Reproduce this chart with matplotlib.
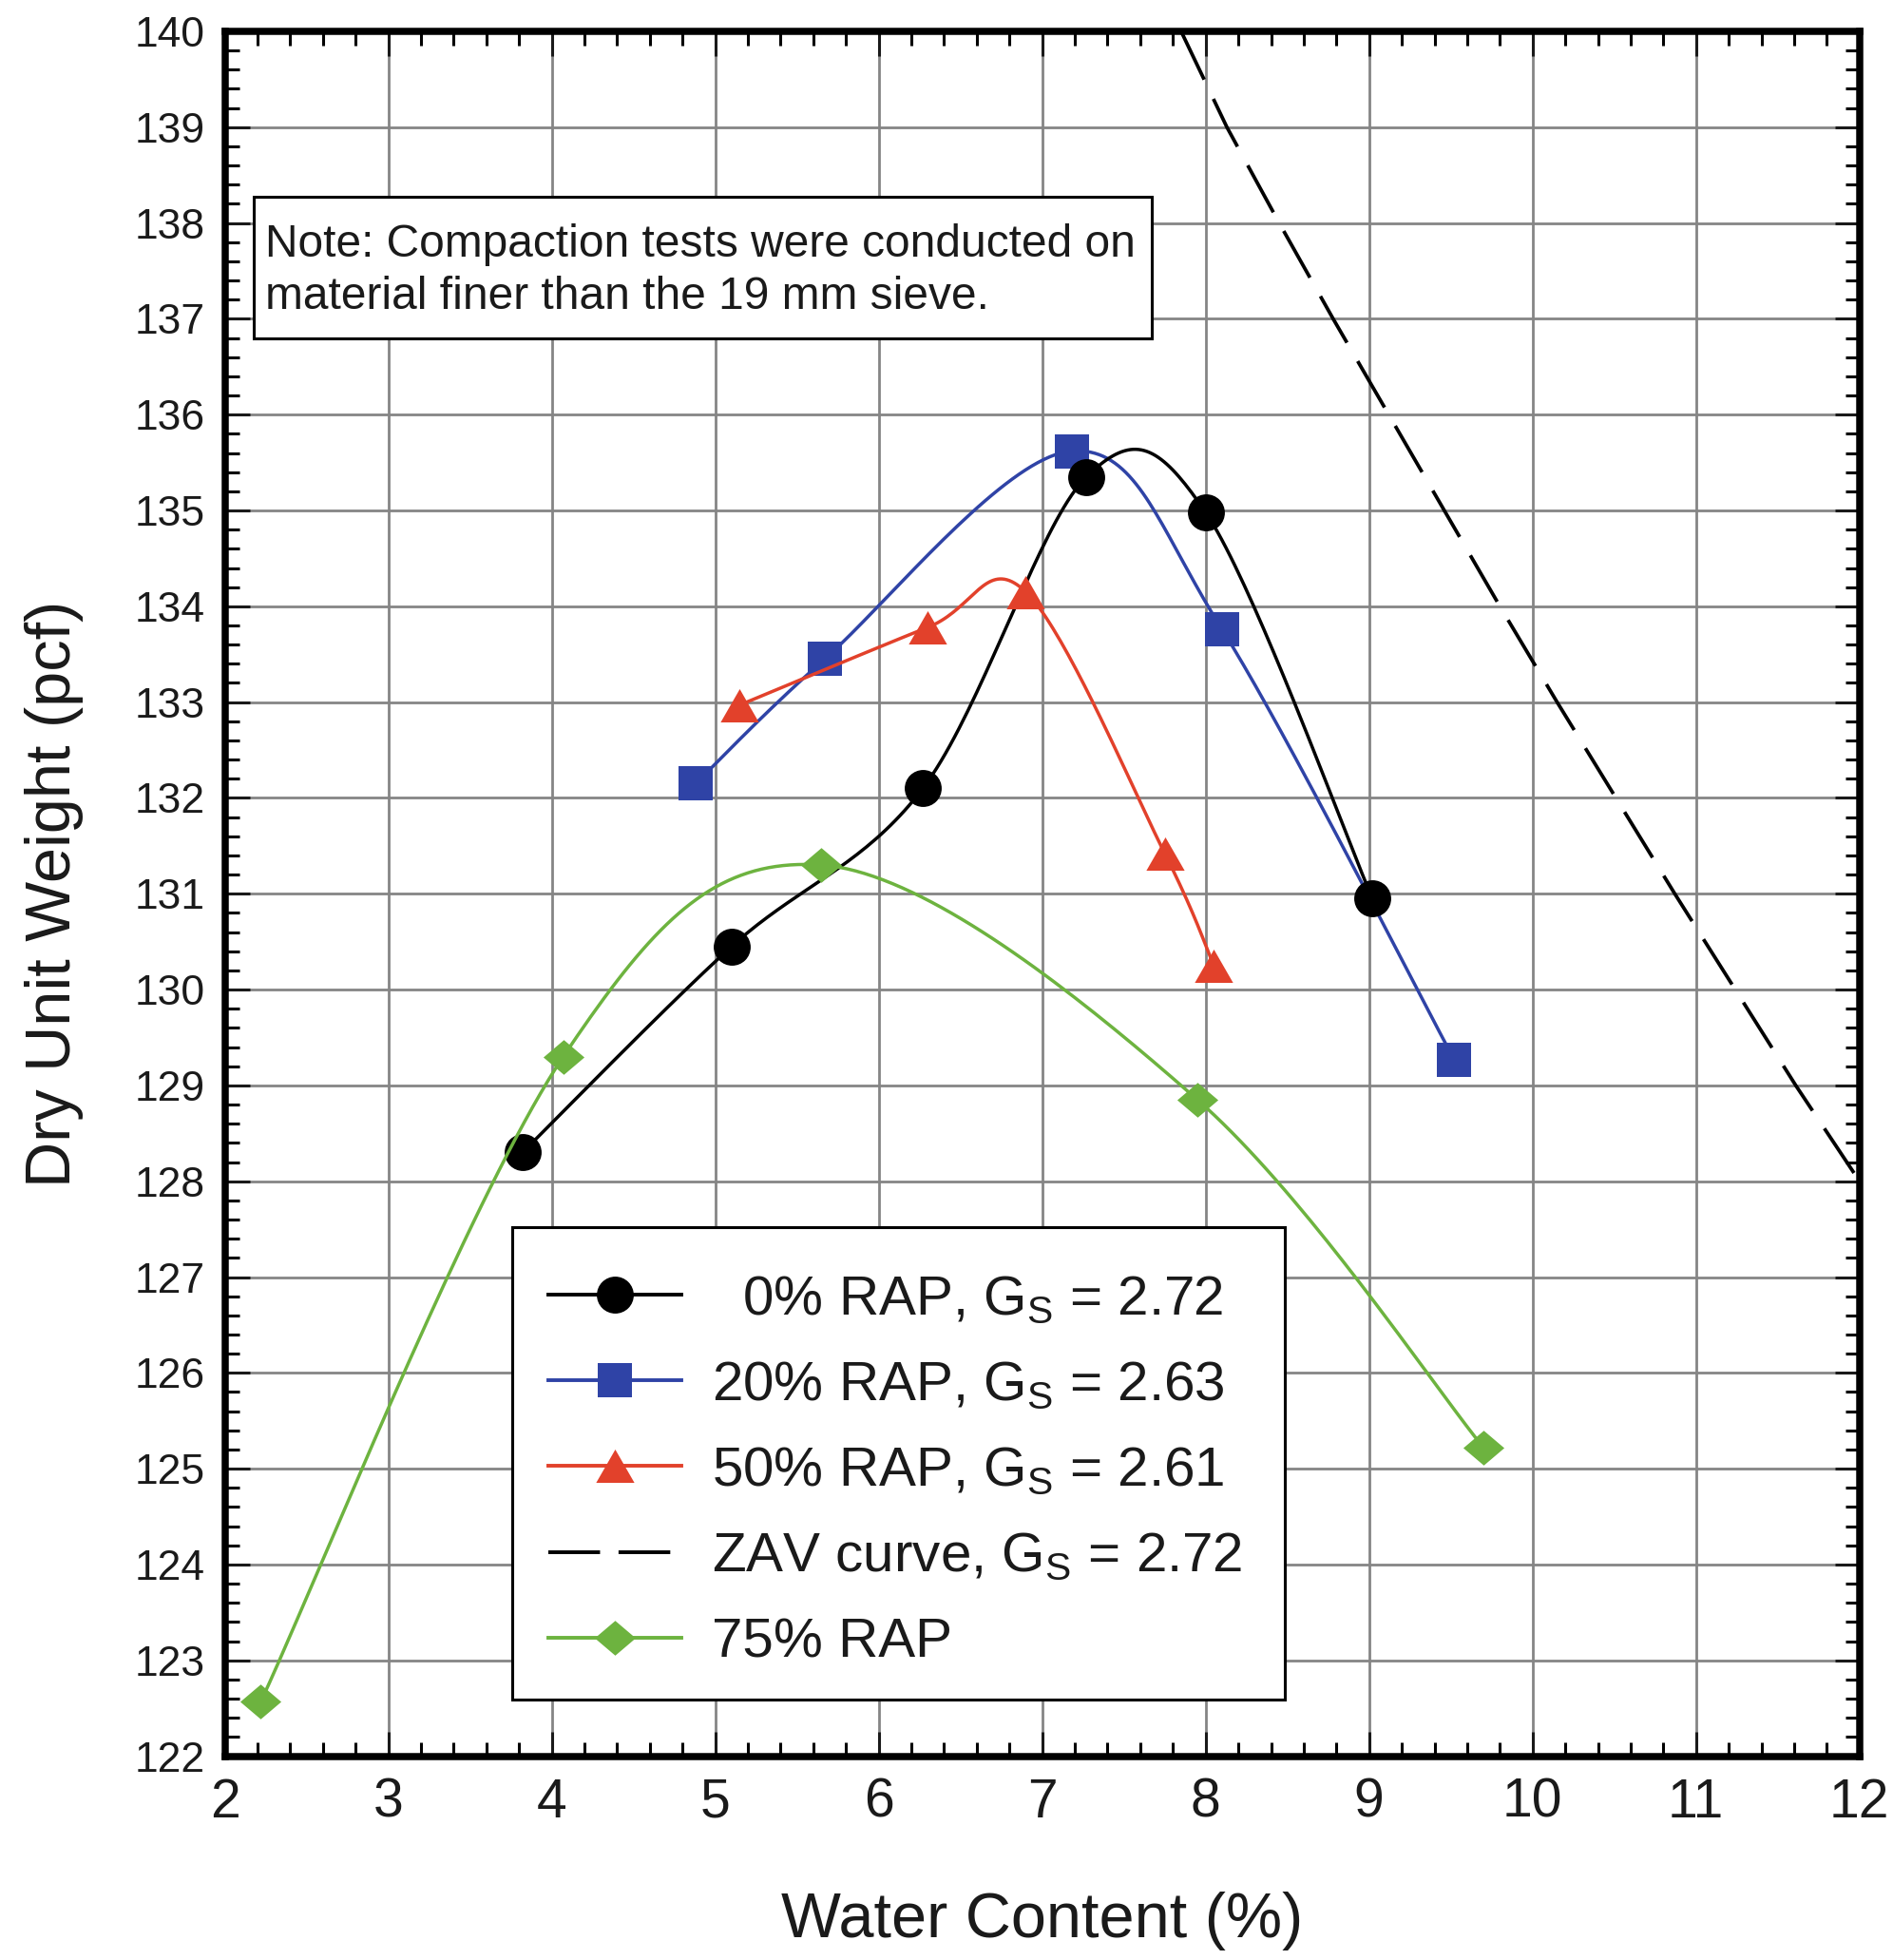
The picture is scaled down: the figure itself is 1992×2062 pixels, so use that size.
import numpy as np
import matplotlib
matplotlib.use('Agg')
import matplotlib.pyplot as plt
from matplotlib.lines import Line2D
from matplotlib.patches import Rectangle
from matplotlib.ticker import MultipleLocator

plt.rcParams['font.family'] = ['Liberation Sans', 'DejaVu Sans']
plt.rcParams['mathtext.fontset'] = 'custom'
plt.rcParams['mathtext.rm'] = 'Liberation Sans'
plt.rcParams['mathtext.it'] = 'Liberation Sans'
plt.rcParams['mathtext.default'] = 'regular'

# ---------------- data ----------------
w_0 = [3.82, 5.10, 6.27, 7.27, 8.00, 9.02]
g_0 = [128.30, 130.45, 132.10, 135.35, 134.98, 130.95]

w_20 = [4.88, 5.67, 7.18, 8.10, 9.52]
g_20 = [132.15, 133.45, 135.62, 133.76, 129.27]

w_50 = [5.15, 6.30, 6.90, 7.75, 8.05]
g_50 = [132.97, 133.78, 134.15, 131.42, 130.25]

w_75 = [2.22, 4.07, 5.65, 7.95, 9.70]
g_75 = [122.57, 129.30, 131.30, 128.85, 125.22]

w_zav = [7.85, 8.13, 8.45, 8.78, 9.12, 9.46, 9.80, 10.15, 10.51, 10.87, 11.24, 11.61, 12.00]
g_zav = [140, 139, 138, 137, 136, 135, 134, 133, 132, 131, 130, 129, 128]

labels = ['  0% RAP, G$_S$ = 2.72',
          '20% RAP, G$_S$ = 2.63',
          '50% RAP, G$_S$ = 2.61',
          'ZAV curve, G$_S$ = 2.72',
          '75% RAP']
note_text = "Note: Compaction tests were conducted on\nmaterial finer than the 19 mm sieve."
x_label = "Water Content (%)"
y_label = "Dry Unit Weight (pcf)"

# ---------------- styling ----------------
c_black = '#000000'
c_blue = '#2f43a6'
c_red = '#e2412b'
c_green = '#6db33f'
c_grid = '#858585'
lw = 2.5
tri = [(0, 0.87), (-1, -0.87), (1, -0.87)]
dia = [(0, 0.85), (1, 0), (0, -0.85), (-1, 0)]

fig = plt.figure(figsize=(19.92, 20.62), dpi=100)
ax = fig.add_axes([0.1188, 0.104, 0.9823 - 0.1188, 0.984 - 0.104])
ax.set_xlim(2, 12)
ax.set_ylim(122, 140)


def excel_smooth(xs, ys, n=40):
    P = ax.transData.transform(np.column_stack([xs, ys]))
    m = len(P)
    out = [P[0]]
    t = np.linspace(0, 1, n)[1:, None]
    for i in range(m - 1):
        p0 = P[i - 1] if i > 0 else P[i]
        p1 = P[i]
        p2 = P[i + 1]
        p3 = P[i + 2] if i + 2 < m else P[i + 1]
        c1 = p1 + (p2 - p0) / 6.0
        c2 = p2 - (p3 - p1) / 6.0
        seg = (1 - t) ** 3 * p1 + 3 * (1 - t) ** 2 * t * c1 + 3 * (1 - t) * t ** 2 * c2 + t ** 3 * p2
        out.extend(seg)
    out = np.array(out)
    return ax.transData.inverted().transform(out)


ms_o, ms_s, ms_t, ms_d = 28, 26, 29, 31
series = [
    (w_20, g_20, c_blue, 's', ms_s, 3),
    (w_0, g_0, c_black, 'o', ms_o, 4),
    (w_50, g_50, c_red, tri, ms_t, 5),
    (w_75, g_75, c_green, dia, ms_d, 6),
]
for xs, ys, col, mk, ms, z in series:
    sm = excel_smooth(xs, ys)
    ax.plot(sm[:, 0], sm[:, 1], color=col, lw=lw, zorder=z, solid_capstyle='round')
    ax.plot(xs, ys, linestyle='none', marker=mk, ms=ms, mfc=col, mec=col, mew=0, zorder=z + 0.5)

ax.plot(w_zav, g_zav, color='k', lw=2.7, dashes=(15, 6), zorder=7)

# grid, ticks, spines
ax.xaxis.set_major_locator(MultipleLocator(1))
ax.xaxis.set_minor_locator(MultipleLocator(0.2))
ax.yaxis.set_major_locator(MultipleLocator(1))
ax.yaxis.set_minor_locator(MultipleLocator(0.2))
ax.grid(True, which='major', color=c_grid, lw=2.0)
ax.set_axisbelow(True)
ax.tick_params(which='both', direction='in', top=True, right=True, width=2.2, color='k')
ax.tick_params(which='major', length=18.5)
ax.tick_params(which='minor', length=11)
ax.tick_params(axis='x', labelsize=41, pad=16, colors='#1a1a1a')
ax.tick_params(axis='y', labelsize=32, pad=15, colors='#1a1a1a')
for sp in ax.spines.values():
    sp.set_linewidth(5.4)
    sp.set_zorder(10)

ax.set_xlabel(x_label, fontsize=48, color='#1a1a1a')
ax.set_ylabel(y_label, fontsize=48, color='#1a1a1a')
ax.xaxis.label.set_va('center')
ax.yaxis.label.set_va('center')
ax.xaxis.set_label_coords(0.5, -0.0957)
ax.yaxis.set_label_coords(-0.1045, 0.5)

# note box
ax.add_patch(Rectangle((0.0176, 0.822), 0.567 - 0.0176, 0.904 - 0.822, transform=ax.transAxes,
                       facecolor='white', edgecolor='k', lw=2.2, zorder=8))
ax.text(0.0245, 0.861, note_text, transform=ax.transAxes, fontsize=34.5, va='center', ha='left',
        linespacing=1.3, color='#1a1a1a', zorder=9)

# legend frame (drawn as a box) and entries
ax.add_patch(Rectangle((0.176, 0.0326), 0.6483 - 0.176, 0.3065 - 0.0326, transform=ax.transAxes,
                       facecolor='white', edgecolor='k', lw=2.2, zorder=8.8))
handles = [
    Line2D([], [], color=c_black, lw=2.8, marker='o', ms=ms_o, mfc=c_black, mec=c_black, mew=0),
    Line2D([], [], color=c_blue, lw=2.8, marker='s', ms=ms_s, mfc=c_blue, mec=c_blue, mew=0),
    Line2D([], [], color=c_red, lw=2.8, marker=tri, ms=ms_t, mfc=c_red, mec=c_red, mew=0),
    Line2D([], [], color='k', lw=2.8, dashes=(14, 5)),
    Line2D([], [], color=c_green, lw=2.8, marker=dia, ms=ms_d, mfc=c_green, mec=c_green, mew=0),
]
leg = ax.legend(handles, labels, loc='upper left', bbox_to_anchor=(0.179, 0.2971),
                borderaxespad=0, fontsize=42, frameon=False, borderpad=0.55, labelspacing=0.62,
                handlelength=2.4, handletextpad=0.55, labelcolor='#1a1a1a')
leg.set_zorder(9)

fig.savefig('out.png', dpi=100, facecolor='white')
